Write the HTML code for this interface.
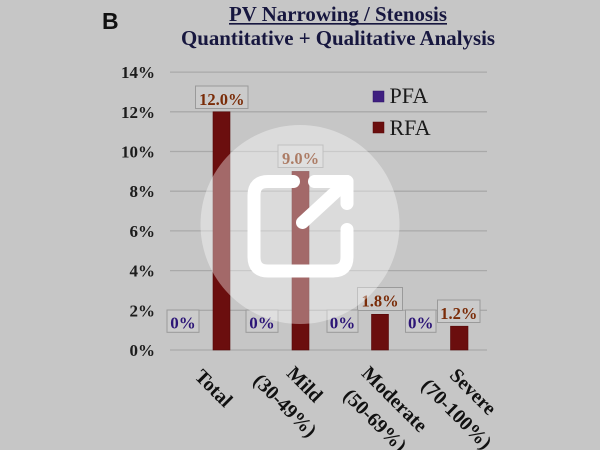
<!DOCTYPE html>
<html>
<head>
<meta charset="utf-8">
<style>
html,body{margin:0;padding:0;background:#c6c6c6;}
svg{display:block;}
.t{font-family:"Liberation Serif","Times New Roman",serif;}
</style>
</head>
<body>
<svg width="600" height="450" viewBox="0 0 600 450" xmlns="http://www.w3.org/2000/svg">
  <rect x="0" y="0" width="600" height="450" fill="#c6c6c6"/>

  <!-- panel letter -->
  <text x="102" y="29" font-family="'Liberation Sans',Arial,sans-serif" font-weight="bold" font-size="23" fill="#111">B</text>

  <!-- title -->
  <text class="t" x="229" y="21" font-weight="bold" font-size="21" fill="#17173f" textLength="218" lengthAdjust="spacingAndGlyphs">PV Narrowing / Stenosis</text>
  <line x1="229" y1="23.8" x2="447" y2="23.8" stroke="#17173f" stroke-width="1.6"/>
  <text class="t" x="181" y="45" font-weight="bold" font-size="21" fill="#17173f" textLength="314" lengthAdjust="spacingAndGlyphs">Quantitative + Qualitative Analysis</text>

  <!-- gridlines -->
  <g stroke="#a9a9a9" stroke-width="1.3">
    <line x1="170" y1="72.1" x2="487" y2="72.1"/>
    <line x1="170" y1="111.8" x2="487" y2="111.8"/>
    <line x1="170" y1="151.5" x2="487" y2="151.5"/>
    <line x1="170" y1="191.2" x2="487" y2="191.2"/>
    <line x1="170" y1="230.9" x2="487" y2="230.9"/>
    <line x1="170" y1="270.6" x2="487" y2="270.6"/>
    <line x1="170" y1="310.3" x2="487" y2="310.3"/>
    <line x1="170" y1="350" x2="487" y2="350"/>
  </g>

  <!-- y labels -->
  <g class="t" font-weight="bold" font-size="17" fill="#1c1c1c" text-anchor="end">
    <text x="155" y="78">14%</text>
    <text x="155" y="118">12%</text>
    <text x="155" y="157.5">10%</text>
    <text x="155" y="197">8%</text>
    <text x="155" y="237">6%</text>
    <text x="155" y="276.5">4%</text>
    <text x="155" y="316.3">2%</text>
    <text x="155" y="356">0%</text>
  </g>

  <!-- bars RFA -->
  <g fill="#6b0e0e" stroke="#560909" stroke-width="0.6">
    <rect x="213" y="111.8" width="17" height="238.2"/>
    <rect x="292" y="171.4" width="17" height="178.6"/>
    <rect x="371.5" y="314.3" width="17" height="35.7"/>
    <rect x="450.5" y="326.2" width="17.5" height="23.8"/>
  </g>

  <!-- value boxes -->
  <g fill="#cbcbcb" stroke="#9a9a9a" stroke-width="1">
    <rect x="195.5" y="86" width="52.5" height="22.5"/>
    <rect x="278" y="145" width="45" height="22.5"/>
    <rect x="357.5" y="287.5" width="45" height="23"/>
    <rect x="437.5" y="300" width="42.5" height="22.5"/>
    <rect x="167" y="310" width="32" height="22.3"/>
    <rect x="246" y="310" width="32" height="22.3"/>
    <rect x="327" y="310" width="31" height="22.3"/>
    <rect x="405.5" y="310" width="30.5" height="22.3"/>
  </g>
  <g class="t" font-weight="bold" font-size="16.5" fill="#7a2c08" text-anchor="middle">
    <text x="221.8" y="105">12.0%</text>
    <text x="300.5" y="164">9.0%</text>
    <text x="380" y="306.7">1.8%</text>
    <text x="458.8" y="319.2">1.2%</text>
  </g>
  <g class="t" font-weight="bold" font-size="17" fill="#2c1577" text-anchor="middle">
    <text x="183" y="328.3">0%</text>
    <text x="262" y="328.3">0%</text>
    <text x="342.5" y="328.3">0%</text>
    <text x="420.8" y="328.3">0%</text>
  </g>

  <!-- legend -->
  <rect x="373" y="91" width="11" height="11" fill="#3f1f80" stroke="#2e1566" stroke-width="0.5"/>
  <text class="t" x="389.5" y="103" font-size="22" fill="#1a1a1a">PFA</text>
  <rect x="373" y="122" width="11" height="11" fill="#6b0e0e" stroke="#560909" stroke-width="0.5"/>
  <text class="t" x="389.5" y="135" font-size="22" fill="#1a1a1a">RFA</text>

  <!-- x labels -->
  <g class="t" font-weight="bold" font-size="20" fill="#111">
    <text transform="translate(193.6,377.4) rotate(45)">Total</text>
    <text transform="translate(285.6,374.4) rotate(45)">Mild</text>
    <text transform="translate(252.2,381.8) rotate(45)">(30-49%)</text>
    <text transform="translate(360.6,374.4) rotate(45)">Moderate</text>
    <text transform="translate(342.2,396.8) rotate(45)">(50-69%)</text>
    <text transform="translate(448.6,376.4) rotate(45)">Severe</text>
    <text transform="translate(420.2,386.8) rotate(45)">(70-100%)</text>
  </g>

  <!-- overlay circle -->
  <circle cx="300" cy="224.5" r="99.5" fill="#ffffff" fill-opacity="0.38"/>

  <!-- external link icon -->
  <g fill="none" stroke="#ffffff" stroke-width="13" stroke-linecap="round" stroke-linejoin="round">
    <path d="M293.5,181.5 L268,181.5 Q254,181.5 254,195.5 L254,257 Q254,271 268,271 L333,271 Q347,271 347,257 L347,229.5"/>
    <path d="M314.5,181.5 L347,181.5 L347,203.5"/>
    <path d="M347,181.5 L302.5,222.5"/>
  </g>
</svg>
</body>
</html>
